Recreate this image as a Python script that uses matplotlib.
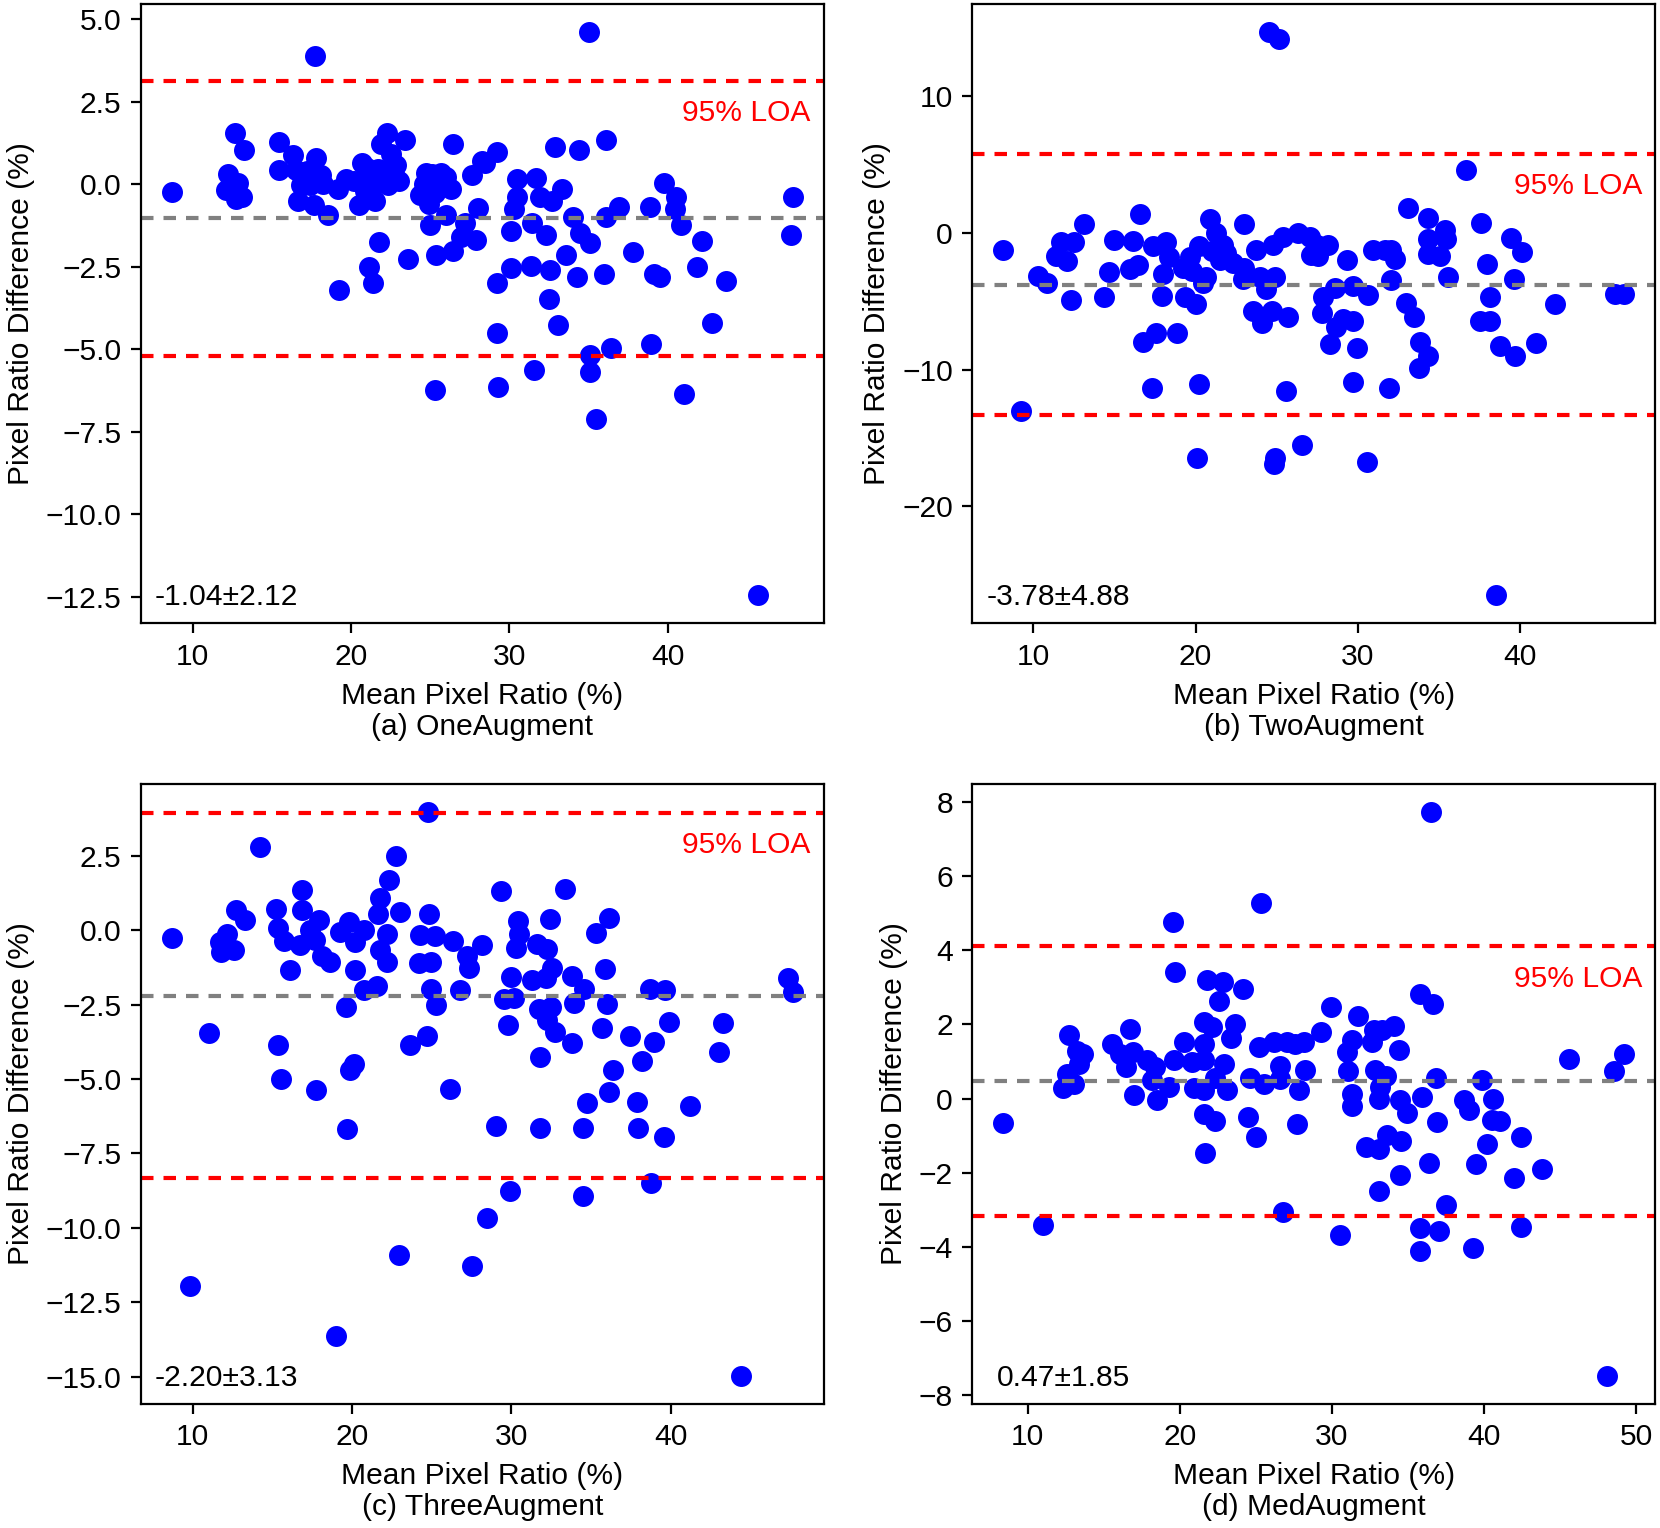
import numpy as np
import matplotlib
matplotlib.use("Agg")
import matplotlib.pyplot as plt
from matplotlib import transforms

plt.rcParams['font.family'] = ['Liberation Sans', 'DejaVu Sans']
plt.rcParams['font.size'] = 10.8

# (a) OneAugment : mean pixel ratio (%) vs difference (%)
a_mean = [8.69, 17.74, 12.68, 13.26, 12.24, 12.85, 12.13, 12.71, 13.09, 15.47, 16.32, 15.45, 16.53,
          16.83, 17.80, 16.62, 17.42, 17.67, 18.10, 18.52, 19.15, 19.68, 20.72, 20.50, 21.27, 21.69,
          21.54, 21.90, 22.26, 22.32, 22.85, 23.38, 22.75, 26.42, 24.75, 25.70, 24.33, 25.28, 26.33,
          27.61, 28.24, 25.98, 28.03, 24.96, 27.18, 26.97, 27.92, 26.44, 25.39, 21.79, 23.59, 21.16,
          21.41, 19.26, 25.28, 20.2, 21.0, 21.5, 22.0, 22.5, 23.0, 20.9, 17.2, 18.2, 24.6, 25.1,
          25.5, 26.0, 24.9,
          35.05, 29.19, 28.45, 29.23, 29.19, 29.30, 30.46, 31.69, 30.46, 30.31, 30.10, 31.41, 31.94,
          32.32, 32.68, 33.31, 32.89, 34.37, 36.10, 33.99, 34.48, 35.07, 33.59, 30.10, 31.35, 32.57,
          34.26, 36.00, 36.91, 36.12, 32.47, 33.10, 31.58, 35.07, 35.07, 36.42, 35.47, 37.79, 38.85,
          39.76, 40.50, 40.46, 40.86, 42.19, 39.13, 39.51, 41.83, 43.71, 42.78, 38.96, 41.05, 47.90,
          47.80, 45.68]
a_diff = [-0.23, 3.87, 1.55, 1.03, 0.31, 0.02, -0.17, -0.45, -0.38, 1.27, 0.88, 0.44, 0.44,
          -0.02, 0.80, -0.51, -0.02, -0.63, 0.29, -0.93, -0.14, 0.16, 0.65, -0.63, 0.16, 0.47,
          -0.51, 1.20, 1.56, -0.02, 0.59, 1.32, 0.20, 1.20, 0.35, 0.35, -0.32, -0.26, -0.14,
          0.29, 0.71, -0.93, -0.72, -1.24, -1.18, -1.60, -1.70, -2.03, -2.16, -1.75, -2.27, -2.51,
          -2.99, -3.22, -6.23, 0.10, 0.50, 0.00, 0.30, 0.90, 0.10, -0.20, 0.40, 0.00, 0.00, 0.30,
          -0.10, 0.20, -0.60,
          4.61, 0.96, 0.65, -3.01, -4.52, -6.14, 0.16, 0.19, -0.38, -0.75, -1.42, -1.18, -0.38,
          -1.54, -0.51, -0.14, 1.12, 1.03, 1.32, -0.99, -1.48, -1.78, -2.15, -2.55, -2.48, -2.61,
          -2.82, -2.72, -0.69, -0.99, -3.49, -4.26, -5.62, -5.17, -5.68, -4.95, -7.12, -2.05, -0.70,
          0.03, -0.38, -0.75, -1.24, -1.72, -2.72, -2.80, -2.51, -2.92, -4.22, -4.85, -6.36, -0.40,
          -1.54, -12.45]

# (b) TwoAugment
b_mean = [24.53, 25.13, 8.15, 9.22, 13.14, 11.68, 12.52, 11.40, 12.05, 10.27, 10.86, 12.34, 14.97,
          14.68, 14.37, 16.57, 16.16, 15.95, 16.47, 17.35, 18.17, 18.37, 18.00, 17.92, 19.24, 19.65,
          20.22, 20.88, 21.29, 21.70, 21.50, 20.67, 20.47, 19.34, 20.02, 16.77, 17.59, 18.87, 17.29,
          20.22, 20.10, 22.99, 23.71, 22.99, 22.93, 24.37, 24.78, 25.39, 26.32, 27.04, 27.14, 23.96,
          24.88, 23.55, 24.12, 24.74, 25.70, 25.60, 24.88, 24.82, 26.56, 21.0, 21.9, 19.8, 22.3,
          36.71, 33.12, 34.35, 35.38, 35.48, 34.35, 34.35, 35.11, 37.59, 39.46, 40.12, 38.00, 39.65,
          35.58, 32.05, 32.30, 31.68, 30.96, 32.09, 29.32, 27.48, 28.20, 27.58, 28.60, 29.73, 30.66,
          27.89, 27.78, 29.12, 29.73, 28.70, 28.30, 29.94, 29.69, 31.95, 32.98, 33.49, 33.84, 34.35,
          33.80, 38.15, 37.53, 38.15, 38.76, 39.69, 41.02, 42.19, 45.91, 46.46, 30.60, 38.56]
b_diff = [14.71, 14.21, -1.24, -13.03, 0.68, -0.68, -0.65, -1.65, -2.06, -3.18, -3.68, -4.91, -0.50,
          -2.82, -4.71, 1.41, -0.59, -2.65, -2.35, -0.94, -0.68, -1.76, -3.00, -4.62, -2.59, -1.76,
          -0.94, 1.03, 0.00, -0.88, -2.00, -3.24, -3.68, -4.71, -5.21, -8.00, -7.35, -7.35, -11.32,
          -11.03, -16.47, 0.68, -1.24, -2.59, -3.38, -4.12, -0.88, -0.29, 0.00, -0.29, -1.62, -3.24,
          -3.24, -5.74, -6.62, -5.68, -6.12, -11.53, -16.47, -16.91, -15.53, -1.3, -1.5, -2.8, -2.2,
          4.62, 1.85, 1.12, 0.21, -0.44, -0.44, -1.53, -1.68, 0.71, -0.38, -1.38, -2.29, -3.38,
          -3.24, -3.44, -1.91, -1.24, -1.24, -1.24, -2.00, -0.88, -0.88, -1.71, -4.06, -3.91, -4.56,
          -4.71, -5.88, -6.32, -6.41, -6.91, -8.09, -8.38, -10.88, -11.32, -5.15, -6.18, -8.00, -8.97,
          -9.85, -4.71, -6.47, -6.41, -8.24, -8.97, -8.06, -5.21, -4.47, -4.47, -16.76, -26.50]

# (c) ThreeAugment
c_mean = [8.70, 9.85, 11.05, 14.25, 12.74, 13.31, 12.15, 11.74, 11.78, 12.57, 15.23, 15.33, 15.75,
          16.13, 16.86, 16.86, 17.91, 17.38, 16.72, 17.70, 18.12, 18.64, 19.23, 19.79, 20.21, 20.73,
          20.21, 20.77, 21.57, 21.78, 22.20, 21.61, 21.78, 22.34, 22.76, 22.99, 22.20, 19.62, 24.75,
          24.81, 24.29, 25.23, 24.18, 24.98, 24.98, 25.27, 26.32, 27.22, 27.33, 26.80, 28.16, 15.33,
          15.56, 17.76, 20.10, 19.90, 19.69, 24.71, 23.66, 26.17, 22.93, 27.53, 19.00, 28.47,
          29.33, 33.38, 30.44, 32.44, 36.11, 35.32, 30.48, 30.27, 31.64, 32.27, 32.58, 32.16, 31.32,
          29.96, 33.84, 34.58, 35.90, 29.54, 30.17, 31.74, 32.48, 32.27, 32.75, 33.95, 36.01, 29.81,
          31.82, 33.78, 35.67, 37.42, 38.68, 39.62, 39.87, 38.93, 38.21, 36.37, 36.11, 34.73, 37.90,
          41.24, 43.30, 43.05, 29.01, 31.81, 34.52, 37.98, 39.56, 29.92, 34.52, 38.74, 47.39, 47.67,
          44.39]
c_diff = [-0.27, -11.94, -3.46, 2.81, 0.69, 0.35, -0.12, -0.39, -0.73, -0.66, 0.72, 0.08, -0.36,
          -1.34, 1.36, 0.69, 0.35, -0.01, -0.50, -0.32, -0.86, -1.07, -0.05, 0.28, -0.39, 0.01,
          -1.34, -2.01, -1.88, -0.66, -1.07, 0.55, 1.07, 1.68, 2.49, 0.62, -0.12, -2.59, 3.96,
          0.53, -0.16, -0.19, -1.11, -1.07, -1.97, -2.52, -0.36, -0.86, -1.27, -2.01, -0.50, -3.87,
          -5.00, -5.36, -4.48, -4.69, -6.67, -3.56, -3.87, -5.32, -10.92, -11.29, -13.62, -9.67,
          1.32, 1.39, 0.31, 0.39, 0.42, -0.09, -0.12, -0.59, -0.46, -0.63, -1.27, -1.61, -1.67,
          -1.58, -1.54, -1.98, -1.30, -2.32, -2.28, -2.66, -2.59, -3.02, -3.43, -2.44, -2.48, -3.19,
          -4.27, -3.79, -3.27, -3.54, -1.98, -2.01, -3.09, -3.77, -4.40, -4.71, -5.45, -5.79, -5.76,
          -5.90, -3.12, -4.10, -6.57, -6.64, -6.63, -6.63, -6.94, -8.76, -8.92, -8.49, -1.61, -2.08,
          -14.97]

# (d) MedAugment
d_mean = [8.42, 10.99, 12.70, 13.25, 13.68, 13.36, 12.59, 12.32, 13.03, 15.55, 16.71, 16.11, 16.95,
          16.45, 17.85, 18.40, 18.18, 16.97, 18.51, 19.28, 19.61, 19.56, 19.67, 20.31, 20.82, 20.92,
          21.58, 21.80, 22.83, 22.61, 22.13, 21.58, 21.58, 22.89, 22.35, 21.58, 23.11, 23.40, 23.66,
          24.14, 21.58, 22.35, 21.69, 24.47, 25.04, 26.80, 25.35, 25.20, 24.65, 25.53, 26.18, 27.06,
          26.62, 26.62, 27.61, 28.16, 28.27, 27.83, 27.72,
          36.54, 29.96, 29.26, 35.82, 36.65, 31.73, 32.76, 33.30, 34.07, 31.33, 31.01, 32.65, 34.40,
          31.07, 32.87, 33.59, 33.19, 33.09, 31.33, 31.33, 36.85, 39.87, 34.51, 34.95, 35.93, 36.91,
          38.71, 38.99, 40.63, 40.53, 41.07, 42.45, 40.20, 32.28, 33.09, 33.63, 34.55, 36.41, 34.51,
          33.13, 39.50, 41.95, 43.85, 37.53, 30.53, 35.82, 37.02, 35.78, 39.28, 42.43, 45.60, 49.23,
          48.56, 48.07]
d_diff = [-0.67, -3.42, 1.70, 1.28, 1.19, 0.94, 0.65, 0.27, 0.38, 1.46, 1.87, 1.19, 1.24,
          0.84, 1.03, 0.84, 0.49, 0.09, -0.05, 0.30, 1.03, 4.76, 3.41, 1.52, 0.97, 0.27,
          2.06, 3.19, 3.14, 2.62, 1.93, 1.46, 1.03, 0.92, 0.54, 0.22, 0.24, 1.62, 2.02,
          2.94, -0.43, -0.60, -1.46, -0.49, -1.03, -3.05, 5.28, 1.39, 0.54, 0.38, 1.52, 1.52,
          0.87, 0.52, 1.46, 1.52, 0.76, 0.24, -0.70,
          7.71, 2.46, 1.79, 2.81, 2.54, 2.22, 1.84, 1.84, 1.95, 1.57, 1.24, 1.52, 1.30,
          0.74, 0.78, 0.60, 0.32, 0.00, 0.11, -0.19, 0.54, 0.51, -0.05, -0.38, 0.03, -0.63,
          -0.03, -0.32, 0.00, -0.57, -0.60, -1.03, -1.22, -1.30, -1.35, -0.97, -1.14, -1.73, -2.06,
          -2.49, -1.76, -2.14, -1.90, -2.87, -3.67, -3.50, -3.57, -4.11, -4.02, -3.46, 1.06, 1.19,
          0.74, -7.47]

panel_titles = ["(a) OneAugment", "(b) TwoAugment", "(c) ThreeAugment", "(d) MedAugment"]
bias = [-1.04, -3.78, -2.20, 0.47]
spread = [2.12, 4.88, 3.13, 1.85]

means = [a_mean, b_mean, c_mean, d_mean]
diffs = [a_diff, b_diff, c_diff, d_diff]

fig = plt.figure(figsize=(8.3, 7.64), dpi=200)
w, h = 0.4114, 0.4056
rects = [[0.0849, 0.5920, w, h], [0.5858, 0.5920, w, h],
         [0.0849, 0.0812, w, h], [0.5858, 0.0812, w, h]]

for i in range(4):
    ax = fig.add_axes(rects[i])
    ax.scatter(means[i], diffs[i], s=57, color='blue', linewidths=0)
    upper = bias[i] + 1.96 * spread[i]
    lower = bias[i] - 1.96 * spread[i]
    ax.axhline(bias[i], color='gray', lw=1.5, dashes=(3.0, 2.4))
    ax.axhline(upper, color='red', lw=1.5, dashes=(3.0, 2.4))
    ax.axhline(lower, color='red', lw=1.5, dashes=(3.0, 2.4))
    trans = transforms.blended_transform_factory(ax.transAxes, ax.transData)
    ax.annotate("95% LOA", xy=(1, upper), xycoords=trans, xytext=(-4.7, -6.5),
                textcoords='offset points', ha='right', va='top', color='red')
    ax.text(0.2305, 0.029, "{:.2f}±{:.2f}".format(bias[i], spread[i]),
            transform=ax.transAxes, ha='right', va='baseline')
    ax.set_xlabel("Mean Pixel Ratio (%)\n" + panel_titles[i], linespacing=1.13)
    ax.set_ylabel("Pixel Ratio Difference (%)")

fig.savefig("out.png", dpi=200)
